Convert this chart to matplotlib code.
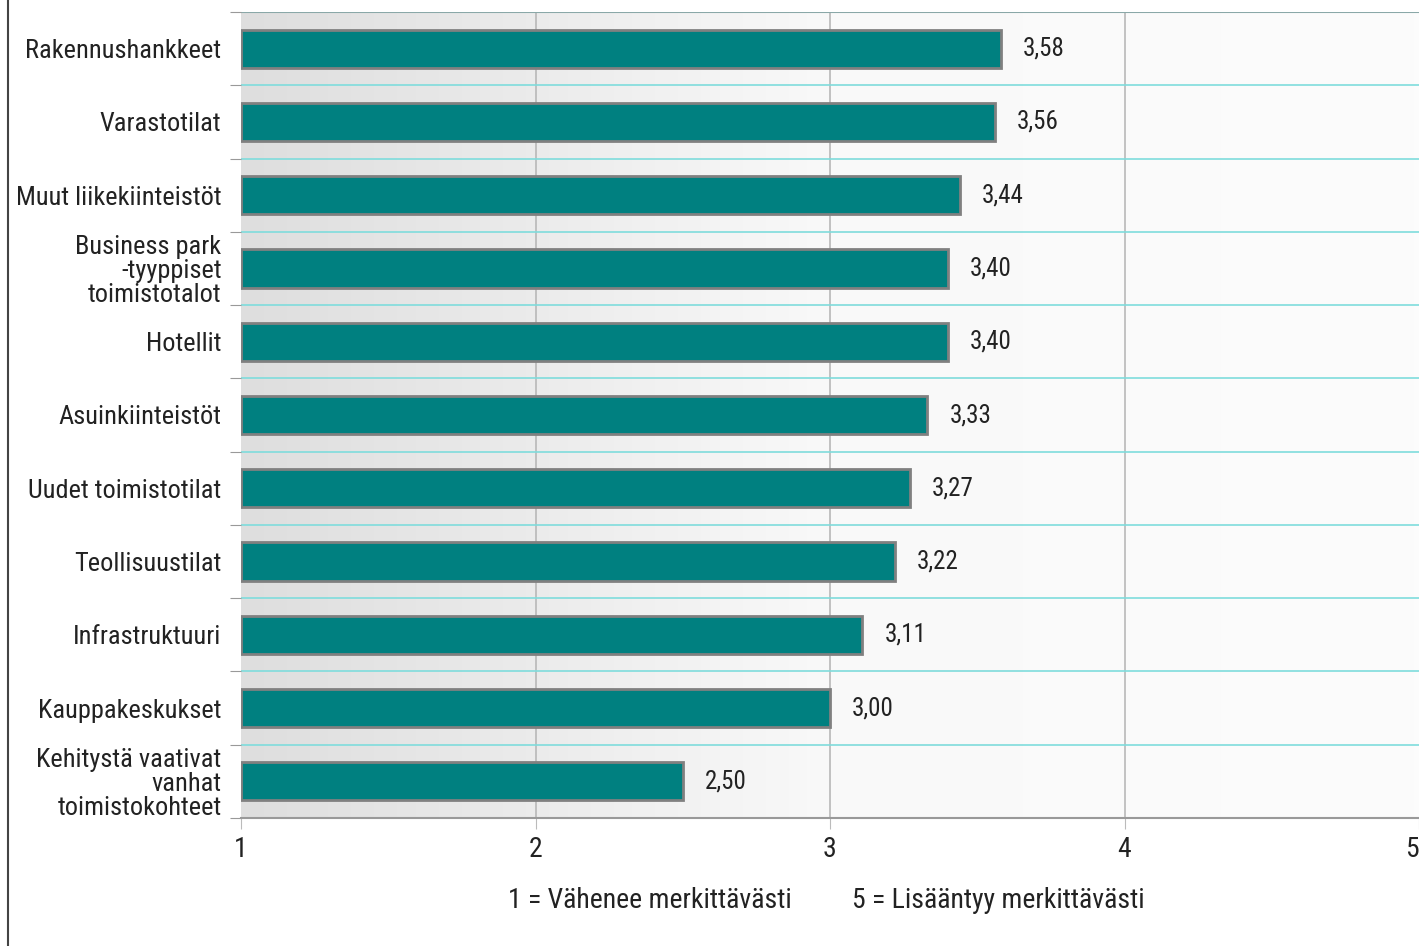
import numpy as np
import matplotlib
matplotlib.use("Agg")
import matplotlib.pyplot as plt
from matplotlib import font_manager

categories = [
    "Rakennushankkeet",
    "Varastotilat",
    "Muut liikekiinteistöt",
    "Business park\n-tyyppiset\ntoimistotalot",
    "Hotellit",
    "Asuinkiinteistöt",
    "Uudet toimistotilat",
    "Teollisuustilat",
    "Infrastruktuuri",
    "Kauppakeskukset",
    "Kehitystä vaativat\nvanhat\ntoimistokohteet",
]
values = [3.58, 3.56, 3.44, 3.40, 3.40, 3.33, 3.27, 3.22, 3.11, 3.00, 2.50]
xticks = [1, 2, 3, 4, 5]

# condensed font if it is there
names = {f.name for f in font_manager.fontManager.ttflist}
fam = "DejaVu Sans"
for cand in ["Roboto Condensed", "PT Sans Narrow", "Archivo Narrow"]:
    if cand in names:
        fam = cand
        break
plt.rcParams['font.family'] = [fam, 'DejaVu Sans']

fig = plt.figure(figsize=(14.19, 9.46), dpi=100)
ax = fig.add_axes([241 / 1419, 1 - 818 / 946, 1 - 241 / 1419, (818 - 12) / 946])

n = len(categories)
y = np.arange(n)

# gradient background, grey on the left to near white
grad = np.linspace(0, 1, 256).reshape(1, -1)
bg = matplotlib.colors.LinearSegmentedColormap.from_list('bg', ['#dedede', '#f9f9f9', '#fcfcfc'])
ax.imshow(grad, extent=[1, 5, n - 0.5, -0.5], aspect='auto', cmap=bg, zorder=0)

for xv in xticks[1:-1]:
    ax.axvline(xv, color='#b8b8b8', lw=1.2, zorder=1)
for b in np.arange(0.5, n - 1, 1):
    ax.axhline(b, color='#7fdcdc', lw=1.2, zorder=1)
ax.axhline(-0.5, color='#8aa8a8', lw=1.5, zorder=1)

ax.barh(y, [v - 1 for v in values], left=1, height=0.52, color='#008080',
        edgecolor='#808080', linewidth=2, zorder=3)

for yi, v in zip(y, values):
    ax.text(v + 0.075, yi, f"{v:.2f}".replace('.', ','), va='center', ha='left',
            fontsize=18, color='#222222', zorder=4)

ax.set_xlim(1, 5)
ax.set_ylim(n - 0.5, -0.5)
ax.set_xticks(xticks)
ax.set_xticklabels([str(t) for t in xticks], fontsize=20, color='#222222')
ax.get_xticklabels()[-1].set_ha('right')
ax.set_yticks(np.arange(-0.5, n, 1))
ax.set_yticklabels([])
ax.set_yticks(y, minor=True)
ax.set_yticklabels(categories, minor=True, fontsize=19, color='#222222', linespacing=1.0)
ax.tick_params(axis='y', which='minor', length=0, pad=14)
ax.tick_params(axis='y', which='major', length=8, color='#999999')
ax.tick_params(axis='x', length=8, color='#bbbbbb', pad=5)

for s in ['top', 'right', 'left']:
    ax.spines[s].set_visible(False)
ax.spines['bottom'].set_color('#999999')
ax.spines['bottom'].set_linewidth(1.5)

fig.add_artist(plt.Line2D([8 / 1419, 8 / 1419], [0, 1], color='#444444', lw=1.5))

fig.text(650 / 1419, 1 - 900 / 946, "1 = Vähenee merkittävästi", ha='center', va='center',
         fontsize=20, color='#222222')
fig.text(998 / 1419, 1 - 900 / 946, "5 = Lisääntyy merkittävästi", ha='center', va='center',
         fontsize=20, color='#222222')

fig.savefig("out.png", dpi=100)
